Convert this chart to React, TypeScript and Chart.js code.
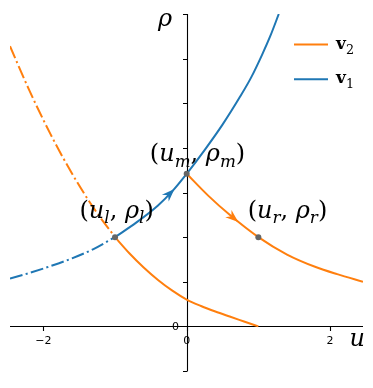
import React, { useEffect, useRef } from 'react';
import { Chart, registerables } from 'chart.js';

Chart.register(...registerables);

// ---------- data ----------
const xRange = [-2.465, 2.46];
const yRange = [-0.5, 3.5];
const xTicks = [-2, 0, 2];
const xTickLabels = ['\u22122', '0', '2'];
const yTicks = [-0.5, 0, 0.5, 1, 1.5, 2, 2.5, 3, 3.5];
const yTickLabels = ['', '0', '', '', '', '', '', '', ''];

// v1 curve (blue)
const blueDashU = [-2.465, -2.2, -1.9, -1.6, -1.3, -1.0];
const blueDashRho = [0.535, 0.597, 0.675, 0.762, 0.866, 1.0];
const blueSolidU = [-1.0, -0.7, -0.4, -0.2, 0, 0.25, 0.5, 0.75, 0.9, 1.05, 1.17, 1.285];
const blueSolidRho = [1.0, 1.165, 1.355, 1.515, 1.71, 1.975, 2.26, 2.58, 2.79, 3.04, 3.26, 3.5];

// v2 curve through left state (orange)
const orangeDashU = [-2.465, -2.2, -1.9, -1.6, -1.3, -1.0];
const orangeDashRho = [3.14, 2.653, 2.154, 1.713, 1.328, 1.0];
const orangeSolidU = [-1.0, -0.8, -0.6, -0.4, -0.2, 0, 0.2, 0.4, 0.6, 0.8, 1.0];
const orangeSolidRho = [1.0, 0.82, 0.66, 0.52, 0.4, 0.3, 0.228, 0.166, 0.11, 0.055, 0];

// v2 curve through middle state (orange)
const orangeRightU = [0, 0.3, 0.6, 1.0, 1.4, 1.8, 2.1, 2.46];
const orangeRightRho = [1.71, 1.465, 1.25, 1.0, 0.805, 0.665, 0.585, 0.5];

// states l, m, r
const stateNames = ['l', 'm', 'r'];
const stateU = [-1, 0, 1];
const stateRho = [1, 1.71, 1];

// arrows (tail -> tip, along curves)
const arrowTailU = [-0.4, 0.5];
const arrowTailRho = [1.355, 1.32];
const arrowTipU = [-0.17, 0.72];
const arrowTipRho = [1.54, 1.17];

const legendNames = ['v', 'v'];
const legendSubs = ['2', '1'];

// ---------- styles ----------
const BLUE = '#1f77b4';
const ORANGE = '#ff7f0e';
const GRAY = '#666666';
const DASHDOT = [13, 3.3, 2.1, 3.3];
const MATH_FAMILY = '"DejaVu Serif"';
const SANS = '"DejaVu Sans"';

// label anchors (data coords) for state annotations: centre x, baseline y
const stateLabelU = [-0.977, 0.151, 1.406];
const stateLabelRho = [1.214, 1.848, 1.214];

const zip = (u: number[], r: number[]) => u.map((x, i) => ({ x, y: r[i] }));

type Seg = { t: string; italic?: boolean; bold?: boolean; sub?: boolean };

function drawRich(
  ctx: CanvasRenderingContext2D,
  segs: Seg[],
  x: number,
  y: number,
  size: number,
  align: 'center' | 'left',
  subScale = 0.7,
  subDy = 0.22
) {
  const fontFor = (s: Seg) =>
    `${s.italic ? 'italic ' : ''}${s.bold ? 'bold ' : ''}${s.sub ? size * subScale : size}px ${MATH_FAMILY}`;
  let total = 0;
  const widths: number[] = [];
  for (const s of segs) {
    ctx.font = fontFor(s);
    const w = ctx.measureText(s.t).width;
    widths.push(w);
    total += w;
  }
  let cx = align === 'center' ? x - total / 2 : x;
  ctx.textAlign = 'left';
  ctx.textBaseline = 'alphabetic';
  segs.forEach((s, i) => {
    ctx.font = fontFor(s);
    ctx.fillText(s.t, cx, y + (s.sub ? size * subDy : 0));
    cx += widths[i];
  });
}

const axesPlugin = {
  id: 'centeredAxes',
  beforeDatasetsDraw(chart: any) {
    const ctx: CanvasRenderingContext2D = chart.ctx;
    const xs = chart.scales.x;
    const ys = chart.scales.y;
    const x0 = Math.round(xs.getPixelForValue(0)) + 0.5;
    const y0 = Math.round(ys.getPixelForValue(0)) + 0.5;
    ctx.save();
    ctx.strokeStyle = '#000';
    ctx.lineWidth = 1.1;
    // spines
    ctx.beginPath();
    ctx.moveTo(xs.getPixelForValue(xRange[0]), y0);
    ctx.lineTo(xs.getPixelForValue(xRange[1]), y0);
    ctx.moveTo(x0, ys.getPixelForValue(yRange[0]));
    ctx.lineTo(x0, ys.getPixelForValue(yRange[1]));
    ctx.stroke();
    // ticks
    ctx.beginPath();
    xTicks.forEach((t) => {
      const px = Math.round(xs.getPixelForValue(t)) + 0.5;
      ctx.moveTo(px, y0);
      ctx.lineTo(px, y0 + 4.5);
    });
    yTicks.forEach((t) => {
      const py = Math.round(ys.getPixelForValue(t)) + 0.5;
      ctx.moveTo(x0, py);
      ctx.lineTo(x0 - 4.5, py);
    });
    ctx.stroke();
    // tick labels
    ctx.fillStyle = '#000';
    ctx.font = `11px ${SANS}`;
    ctx.textAlign = 'center';
    ctx.textBaseline = 'top';
    xTicks.forEach((t, i) => {
      ctx.fillText(xTickLabels[i], xs.getPixelForValue(t), y0 + 9.5);
    });
    ctx.textAlign = 'right';
    ctx.textBaseline = 'middle';
    yTicks.forEach((t, i) => {
      if (yTickLabels[i]) ctx.fillText(yTickLabels[i], x0 - 8.5, ys.getPixelForValue(t) + 0.5);
    });
    ctx.restore();
  },
  afterDatasetsDraw(chart: any) {
    const ctx: CanvasRenderingContext2D = chart.ctx;
    const xs = chart.scales.x;
    const ys = chart.scales.y;
    const area = chart.chartArea;
    ctx.save();
    // arrowheads
    const colors = [BLUE, ORANGE];
    arrowTipU.forEach((tu, i) => {
      const tx = xs.getPixelForValue(tu);
      const ty = ys.getPixelForValue(arrowTipRho[i]);
      const bx = xs.getPixelForValue(arrowTailU[i]);
      const by = ys.getPixelForValue(arrowTailRho[i]);
      let dx = tx - bx;
      let dy = ty - by;
      const len = Math.hypot(dx, dy);
      dx /= len;
      dy /= len;
      const nx = -dy;
      const ny = dx;
      const L = 13;
      const W = 4.8;
      const N = 4;
      ctx.fillStyle = colors[i];
      ctx.beginPath();
      ctx.moveTo(tx, ty);
      ctx.lineTo(tx - L * dx + W * nx, ty - L * dy + W * ny);
      ctx.lineTo(tx - (L - N) * dx, ty - (L - N) * dy);
      ctx.lineTo(tx - L * dx - W * nx, ty - L * dy - W * ny);
      ctx.closePath();
      ctx.fill();
    });
    // state points
    ctx.fillStyle = GRAY;
    stateU.forEach((u, i) => {
      ctx.beginPath();
      ctx.arc(xs.getPixelForValue(u), ys.getPixelForValue(stateRho[i]), 3, 0, Math.PI * 2);
      ctx.fill();
    });
    // state labels
    ctx.fillStyle = '#000';
    stateNames.forEach((n, i) => {
      drawRich(
        ctx,
        [
          { t: '(' },
          { t: 'u', italic: true },
          { t: n, italic: true, sub: true },
          { t: ', ' },
          { t: '\u03c1', italic: true },
          { t: n, italic: true, sub: true },
          { t: ')' },
        ],
        xs.getPixelForValue(stateLabelU[i]),
        ys.getPixelForValue(stateLabelRho[i]),
        24,
        'center'
      );
    });
    // axis labels
    drawRich(ctx, [{ t: '\u03c1', italic: true }], xs.getPixelForValue(-0.4), ys.getPixelForValue(3.36), 24, 'left');
    drawRich(ctx, [{ t: 'u', italic: true }], xs.getPixelForValue(2.27), ys.getPixelForValue(-0.22), 24, 'left');
    // legend
    const legendColors = [ORANGE, BLUE];
    const lx0 = area.right - 69;
    const lineLen = 34;
    legendNames.forEach((name, i) => {
      const ly = area.top + 30.5 + i * 34.8;
      ctx.strokeStyle = legendColors[i];
      ctx.lineWidth = 2;
      ctx.setLineDash([]);
      ctx.beginPath();
      ctx.moveTo(lx0, ly);
      ctx.lineTo(lx0 + lineLen, ly);
      ctx.stroke();
      ctx.fillStyle = '#000';
      drawRich(
        ctx,
        [
          { t: name, bold: true },
          { t: legendSubs[i], sub: true },
        ],
        lx0 + lineLen + 8,
        ly + 4,
        17,
        'left',
        0.75,
        0.3
      );
    });
    ctx.restore();
  },
};

export default function App() {
  const ref = useRef<HTMLCanvasElement | null>(null);
  useEffect(() => {
    document.body.style.margin = '0';
    if (!ref.current) return;
    const lineDs = (data: any[], color: string, dash: number[]) => ({
      data,
      borderColor: color,
      backgroundColor: color,
      borderWidth: 2,
      borderDash: dash,
      pointRadius: 0,
      fill: false,
      cubicInterpolationMode: 'monotone' as const,
    });
    const chart = new Chart(ref.current, {
      type: 'line',
      data: {
        datasets: [
          lineDs(zip(orangeDashU, orangeDashRho), ORANGE, DASHDOT),
          lineDs(zip(orangeSolidU, orangeSolidRho), ORANGE, []),
          lineDs(zip(orangeRightU, orangeRightRho), ORANGE, []),
          lineDs(zip(blueDashU, blueDashRho), BLUE, DASHDOT),
          lineDs(zip(blueSolidU, blueSolidRho), BLUE, []),
        ],
      },
      options: {
        responsive: false,
        animation: false,
        layout: { padding: { left: 10, right: 10, top: 14, bottom: 17 } },
        scales: {
          x: { type: 'linear', min: xRange[0], max: xRange[1], display: false },
          y: { type: 'linear', min: yRange[0], max: yRange[1], display: false },
        },
        plugins: { legend: { display: false }, tooltip: { enabled: false } },
        events: [],
      },
      plugins: [axesPlugin],
    });
    return () => chart.destroy();
  }, []);
  return (
    <div style={{ width: 373, height: 388 }}>
      <canvas ref={ref} width={373} height={388} />
    </div>
  );
}
